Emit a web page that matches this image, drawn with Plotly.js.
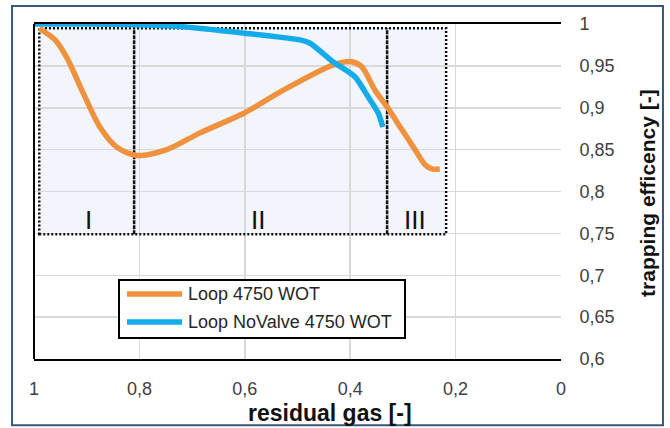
<!DOCTYPE html>
<html>
<head>
<meta charset="utf-8">
<script src="https://cdn.plot.ly/plotly-3.0.1.min.js"></script>
<style>
html,body{margin:0;padding:0;background:#fff;}
#chart{width:670px;height:428px;}
</style>
</head>
<body>
<div id="chart"></div>
<script>
// ---- data ----
const loopX = [0.99, 0.96, 0.937, 0.907, 0.875, 0.843, 0.805, 0.748, 0.685, 0.6, 0.527, 0.433, 0.397, 0.378, 0.353, 0.330, 0.302, 0.277, 0.258, 0.245, 0.230];
const loopY = [0.995, 0.981, 0.959, 0.918, 0.877, 0.853, 0.843, 0.850, 0.870, 0.894, 0.921, 0.951, 0.955, 0.949, 0.921, 0.901, 0.874, 0.850, 0.832, 0.827, 0.827];
const noValveX = [1.0, 0.9, 0.8, 0.723, 0.6, 0.495, 0.476, 0.433, 0.391, 0.366, 0.347, 0.338];
const noValveY = [1.0, 1.0, 0.999, 0.997, 0.989, 0.981, 0.977, 0.955, 0.937, 0.913, 0.894, 0.877];
const seriesNames = ['Loop 4750 WOT', 'Loop NoValve 4750 WOT'];
const seriesColors = ['#F0913E', '#14ABEA'];

const xTickVals = [1, 0.8, 0.6, 0.4, 0.2, 0];
const xTickText = ['1', '0,8', '0,6', '0,4', '0,2', '0'];
const yTickVals = [0.6, 0.65, 0.7, 0.75, 0.8, 0.85, 0.9, 0.95, 1];
const yTickText = ['0,6', '0,65', '0,7', '0,75', '0,8', '0,85', '0,9', '0,95', '1'];

const regionStart = [0.99, 0.81, 0.33];
const regionEnd = [0.81, 0.33, 0.218];
const regionTop = 0.995;
const regionBottom = 0.749;
const regionLabels = ['I', 'II', 'III'];
const regionLabelX = [0.896, 0.575, 0.277];
const regionLabelY = 0.766;

const xTitle = 'residual gas [-]';
const yTitle = 'trapping efficency [-]';

// ---- chart ----
const FONT = 'Liberation Sans, Arial, sans-serif';
const traces = [
  {x: loopX, y: loopY, name: seriesNames[0], mode: 'lines',
   line: {color: seriesColors[0], width: 5.5, shape: 'spline', smoothing: 0.8}},
  {x: noValveX, y: noValveY, name: seriesNames[1], mode: 'lines',
   line: {color: seriesColors[1], width: 5.5, shape: 'spline', smoothing: 0.6}}
];

const shapes = [];
// region fills
for (let i = 0; i < regionStart.length; i++) {
  shapes.push({type: 'rect', xref: 'x', yref: 'y', x0: regionStart[i], x1: regionEnd[i],
    y0: regionBottom, y1: regionTop, fillcolor: '#F2F5FB', line: {width: 0}, layer: 'below'});
}
// dotted outer border
shapes.push({type: 'rect', xref: 'x', yref: 'y', x0: regionStart[0], x1: regionEnd[regionEnd.length - 1],
  y0: regionBottom, y1: regionTop, fillcolor: 'rgba(0,0,0,0)',
  line: {color: '#111', width: 2.5, dash: '2px,2px'}, layer: 'between'});
// dividers
for (let i = 1; i < regionStart.length; i++) {
  shapes.push({type: 'line', xref: 'x', yref: 'y', x0: regionStart[i], x1: regionStart[i],
    y0: regionBottom, y1: regionTop, line: {color: '#111', width: 2.5, dash: '4px,1px'}, layer: 'between'});
}
// left axis line
shapes.push({type: 'line', xref: 'paper', yref: 'paper', x0: 0, x1: 0, y0: 0, y1: 1,
  line: {color: '#000', width: 2}});
// outer frame
shapes.push({type: 'rect', xref: 'paper', yref: 'paper', x0: -0.0417, x1: 1.1935, y0: -0.198, y1: 1.0537,
  line: {color: '#3B5875', width: 2}, fillcolor: 'rgba(0,0,0,0)'});
// legend box
shapes.push({type: 'rect', xref: 'paper', yref: 'paper', x0: 0.1613, x1: 0.704, y0: 0.0627, y1: 0.2358,
  line: {color: '#000', width: 2}, fillcolor: '#fff', layer: 'above'});
const legRowY = [0.194, 0.1104];
for (let i = 0; i < seriesNames.length; i++) {
  shapes.push({type: 'line', xref: 'paper', yref: 'paper', x0: 0.1765, x1: 0.2808, y0: legRowY[i], y1: legRowY[i],
    line: {color: seriesColors[i], width: 5.5}, layer: 'above'});
}

const annotations = [];
for (let i = 0; i < regionLabels.length; i++) {
  annotations.push({xref: 'x', yref: 'y', x: regionLabelX[i], y: regionLabelY, text: regionLabels[i],
    showarrow: false, font: {family: FONT, size: 26, color: '#111'}});
}
for (let i = 0; i < seriesNames.length; i++) {
  annotations.push({xref: 'paper', yref: 'paper', x: 0.2884, y: legRowY[i], xanchor: 'left', yanchor: 'middle',
    text: seriesNames[i], showarrow: false, font: {family: FONT, size: 18, color: '#262626'}});
}
annotations.push({xref: 'paper', yref: 'paper', x: 0.5617, y: -0.16, xanchor: 'center', yanchor: 'middle',
  text: '<b>' + xTitle + '</b>', showarrow: false, font: {family: FONT, size: 23, color: '#111'}});
annotations.push({xref: 'paper', yref: 'paper', x: 1.163, y: 0.4955, xanchor: 'center', yanchor: 'middle',
  textangle: -90, text: '<b>' + yTitle + '</b>', showarrow: false, font: {family: FONT, size: 21, color: '#111'}});

const layout = {
  width: 670, height: 428,
  margin: {l: 34, r: 109, t: 24, b: 69, pad: 0},
  paper_bgcolor: '#fff', plot_bgcolor: '#fff',
  showlegend: false,
  font: {family: FONT, size: 18, color: '#404040'},
  xaxis: {range: [1, 0], tickvals: xTickVals, ticktext: xTickText,
    showgrid: true, gridcolor: '#D9D9D9', gridwidth: 1.5, zeroline: false,
    showline: true, linecolor: '#000', linewidth: 2, mirror: true,
    ticks: 'outside', ticklen: 12, tickcolor: 'rgba(0,0,0,0)',
    tickfont: {family: FONT, size: 18, color: '#404040'}},
  yaxis: {range: [0.6, 1], side: 'right', tickvals: yTickVals, ticktext: yTickText,
    showgrid: true, gridcolor: '#D9D9D9', gridwidth: 1.5, zeroline: false, showline: false,
    ticks: 'outside', ticklen: 14, tickcolor: 'rgba(0,0,0,0)',
    tickfont: {family: FONT, size: 18, color: '#404040'}},
  shapes: shapes,
  annotations: annotations
};

Plotly.newPlot('chart', traces, layout, {displayModeBar: false, staticPlot: true});
</script>
</body>
</html>
